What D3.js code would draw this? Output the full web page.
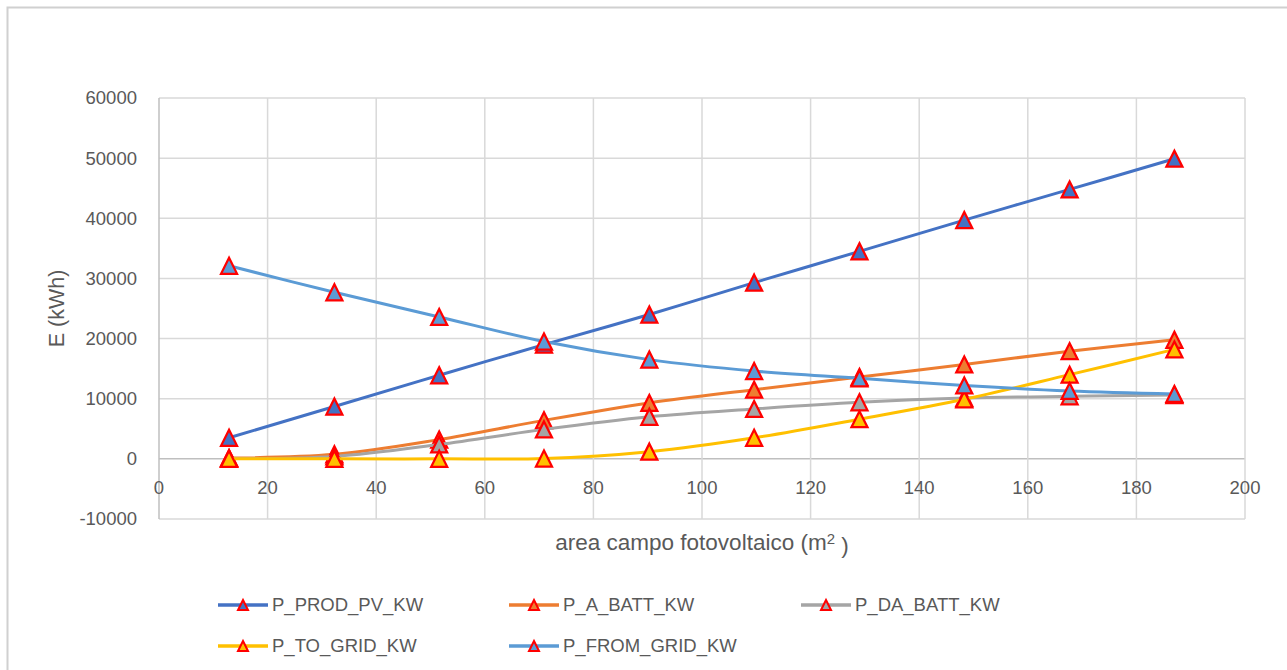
<!DOCTYPE html>
<html>
<head>
<meta charset="utf-8">
<script src="https://cdn.jsdelivr.net/npm/d3@7"></script>
<style>
    body { margin: 0; background: #fff; }
    text { font-family: "Liberation Sans", Arial, sans-serif; fill: #595959; }
</style>
</head>
<body>
<div id="chart"></div>
<script>
// area campo fotovoltaico (m2)
var areas = [12.9, 32.3, 51.6, 70.9, 90.3, 109.6, 129.0, 148.3, 167.7, 187.0];

var prodPv = [3500, 8700, 13900, 19000, 24000, 29300, 34500, 39700, 44800, 49900];
var aBatt = [150, 750, 3200, 6400, 9300, 11500, 13600, 15700, 17900, 19800];
var daBatt = [50, 400, 2400, 4900, 7000, 8300, 9400, 10100, 10400, 10600];
var toGrid = [0, 0, 0, 50, 1200, 3500, 6600, 9900, 14000, 18200];
var fromGrid = [32100, 27700, 23600, 19500, 16500, 14600, 13400, 12200, 11300, 10800];

var seriesNames = ["P_PROD_PV_KW", "P_A_BATT_KW", "P_DA_BATT_KW", "P_TO_GRID_KW", "P_FROM_GRID_KW"];
var seriesColors = ["#4472C4", "#ED7D31", "#A5A5A5", "#FFC000", "#5B9BD5"];
var seriesValues = [prodPv, aBatt, daBatt, toGrid, fromGrid];

var xTicks = [0, 20, 40, 60, 80, 100, 120, 140, 160, 180, 200];
var yTicks = [-10000, 0, 10000, 20000, 30000, 40000, 50000, 60000];

var width = 1287, height = 670;
var plot = { left: 159, right: 1245, top: 98, bottom: 519 };

var svg = d3.select("#chart")
    .append("svg")
    .attr("width", width)
    .attr("height", height);

// chart border
svg.append("rect")
    .attr("x", 7.5)
    .attr("y", 7.5)
    .attr("width", width + 20)
    .attr("height", height + 20)
    .style("fill", "none")
    .style("stroke", "#D0D0D0")
    .style("stroke-width", 2);

var x = d3.scaleLinear().domain([0, 200]).range([plot.left, plot.right]);
var y = d3.scaleLinear().domain([-10000, 60000]).range([plot.bottom, plot.top]);

// gridlines
svg.append("g")
    .selectAll("line")
    .data(yTicks)
    .enter().append("line")
    .attr("x1", plot.left)
    .attr("x2", plot.right)
    .attr("y1", function (d) { return y(d); })
    .attr("y2", function (d) { return y(d); })
    .style("stroke", function (d) { return d === 0 ? "#BFBFBF" : "#D9D9D9"; })
    .style("stroke-width", 1.5);

svg.append("g")
    .selectAll("line")
    .data(xTicks)
    .enter().append("line")
    .attr("x1", function (d) { return x(d); })
    .attr("x2", function (d) { return x(d); })
    .attr("y1", plot.top)
    .attr("y2", plot.bottom)
    .style("stroke", function (d) { return d === 0 ? "#BFBFBF" : "#D9D9D9"; })
    .style("stroke-width", 1.5);

// tick labels
svg.append("g")
    .selectAll("text")
    .data(yTicks)
    .enter().append("text")
    .attr("x", plot.left - 22)
    .attr("y", function (d) { return y(d); })
    .attr("dy", "0.35em")
    .attr("text-anchor", "end")
    .style("font-size", "18.5px")
    .text(function (d) { return d; });

svg.append("g")
    .selectAll("text")
    .data(xTicks)
    .enter().append("text")
    .attr("x", function (d) { return x(d); })
    .attr("y", y(0) + 29)
    .attr("dy", "0.35em")
    .attr("text-anchor", "middle")
    .style("font-size", "18.5px")
    .text(function (d) { return d; });

// axis titles
var xTitle = svg.append("text")
    .attr("x", (plot.left + plot.right) / 2)
    .attr("y", 542)
    .attr("dy", "0.35em")
    .attr("text-anchor", "middle")
    .style("font-size", "22.5px");
xTitle.append("tspan").text("area campo fotovoltaico (m");
xTitle.append("tspan").attr("dy", "-0.4em").style("font-size", "15px").text("2");
xTitle.append("tspan").attr("dy", "0.4em").text(" )");

svg.append("text")
    .attr("transform", "translate(56," + ((plot.top + plot.bottom) / 2) + ") rotate(-90)")
    .attr("dy", "0.35em")
    .attr("text-anchor", "middle")
    .style("font-size", "21.5px")
    .text("E (kWh)");

function triangle(w, h) {
    return "M0," + (-h / 2) + "L" + (w / 2) + "," + (h / 2) + "L" + (-w / 2) + "," + (h / 2) + "Z";
}

var line = d3.line()
    .x(function (d, i) { return x(areas[i]); })
    .y(function (d) { return y(d); })
    .curve(d3.curveCatmullRom.alpha(0.5));

seriesValues.forEach(function (vals, s) {
    var g = svg.append("g").attr("class", "series");
    g.append("path")
        .datum(vals)
        .attr("d", line)
        .style("fill", "none")
        .style("stroke", seriesColors[s])
        .style("stroke-width", 3)
        .style("stroke-linecap", "round");
    g.selectAll("path.marker")
        .data(vals)
        .enter().append("path")
        .attr("class", "marker")
        .attr("transform", function (d, i) { return "translate(" + x(areas[i]) + "," + y(d) + ")"; })
        .attr("d", triangle(16, 16))
        .style("fill", seriesColors[s])
        .style("stroke", "#FF0000")
        .style("stroke-width", 2.25)
        .style("stroke-linejoin", "miter");
});

// legend
var legendCols = [218, 509, 801];
var legendRows = [605, 646];

var legend = svg.append("g")
    .selectAll("g")
    .data(seriesNames)
    .enter().append("g")
    .attr("transform", function (d, i) {
        return "translate(" + legendCols[i % 3] + "," + legendRows[Math.floor(i / 3)] + ")";
    });

legend.append("line")
    .attr("x1", 0)
    .attr("x2", 50)
    .style("stroke", function (d, i) { return seriesColors[i]; })
    .style("stroke-width", 3.5);

legend.append("path")
    .attr("transform", "translate(25,0)")
    .attr("d", triangle(10, 10))
    .style("fill", function (d, i) { return seriesColors[i]; })
    .style("stroke", "#FF0000")
    .style("stroke-width", 2);

legend.append("text")
    .attr("x", 54)
    .attr("dy", "0.35em")
    .style("font-size", "18.5px")
    .text(function (d) { return d; });
</script>
</body>
</html>
